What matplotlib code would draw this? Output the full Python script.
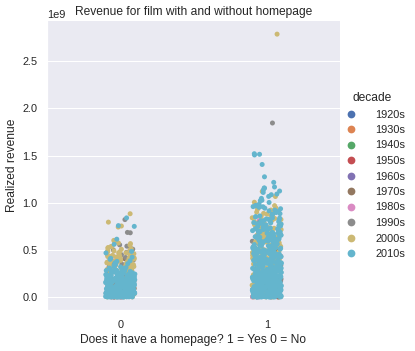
import numpy as np
import pandas as pd
import seaborn as sns
import matplotlib
matplotlib.use("Agg")
import matplotlib.pyplot as plt

decades = ["1920s", "1930s", "1940s", "1950s", "1960s",
           "1970s", "1980s", "1990s", "2000s", "2010s"]

# revenue in millions, no homepage (0)
no_hp_1920s = "0 5 1.2"
no_hp_1930s = "0 3 8 20 45"
no_hp_1940s = "0 2 12 30 60"
no_hp_1950s = "0 4 15 40 80 110"
no_hp_1960s = "0 10 30 60 100 140 180"
no_hp_1970s = "0 5 20 50 90 130 170 210 260 300 405"
no_hp_1980s = "0 10 25 50 80 120 160 200 240 290 330 380 430"
no_hp_1990s = """0 0 3 8 14 22 31 40 52 63 75 88 97 110 124 133 147 158 171 183
192 205 214 226 238 249 261 272 285 297 322 348 365 392 418 447 472 498 506 521
538 552 680 684 820"""
no_hp_2000s = """0 0 0 2 6 11 17 24 30 37 43 51 58 66 72 79 87 94 101 109
116 123 131 138 146 153 161 168 176 183 191 198 206 213 221 228 236 243 251 258
266 273 281 288 295 305 312 318 325 331 338 344 351 357 364 371 378 385 392 399
407 415 423 431 440 449 458 468 478 488 499 511 523 536 550 565 581 599 741 752
793 882
302 309 316 322 329 335 342 348 355 361 368 374 381 388 396 403 411 419 428 437
446 456 467 479 492 505 519 534 572"""
no_hp_2010s = """0 0 0 0 0 0 0 0.4 1.2 1.9 2.5 3.8 4.1 5.6 6.3 7.7 8.2 9.9 11 12.4
13.1 14.8 15.5 17.2 18 19.6 21.3 22 23.7 25.1 26.4 27.9 29.3 30.5 32 33.8 35.2 36.1 37.9 39.4
41 42.6 43.3 45.8 46.2 48.7 49.5 51.1 53.6 54.2 56.9 57.3 59 60.8 62.5 63.1 65.7 66.4 68 69.9
71.2 72.8 74.3 75.9 77.1 78.6 80.4 81.7 83.3 85 86.2 88.8 89.5 91.1 93.7 94.4 96 97.8 99.3 101
102.6 104.2 105.9 107.3 109 110.5 112.2 113.8 115.1 117.6 118.4 120.9 122.2 123.7 125.5 127 128.9 130.3 132.1 133.6
135.4 137 138.8 140.2 142.5 143.9 145.6 147.1 149.8 151.2 152.9 154.6 156.3 158 159.7 161.5 163.2 165 166.8 168.4
170.1 172.3 174 175.9 177.6 179.4 181.5 183.2 185.1 187 188.9 190.8 192.7 194.9 196.5 198.6 200.8 202.7 204.9 207.1
209.2 211.6 213.8 216.1 218.3 220.9 223.2 225.8 228.1 230.7 233.4 236.2 239 241.9 244.5 247.8 250.6 254.1 257.3 260.9
264.2 268 271.5 275.8 279.6 284.3 289.7 295.2 300.5 312 323 338 352 377 398 421 466 482 558 612
748 756 838
0 0 0 0 0 0.8 2.7 4.4 6.9 9.1 11.7 13.9 16.3 18.8 21.6 24.2 26.9 29.7 32.4 35.6
38.3 41.5 44.1 47.3 50.6 53.2 56.4 59.7 62.8 66.1 69.3 72.5 75.6 79.1 82.4 85.7 88.9 92.3 95.6 98.8
102.1 105.5 108.8 112.1 115.6 118.9 122.4 125.8 129.1 132.6 136 139.5 142.9 146.4 149.9 153.3 156.8 160.4 163.9 167.5
171 174.6 178.2 181.8 185.5 189.1 192.8 196.5 200.2 203.9 207.7 211.5 215.3 219.1 223 226.9 230.9 234.9 239 243.1
247.3 251.6 256 260.5 265.1 269.9 274.8 280 285.4 291.1 306 318 331 345 362 383 409"""

# revenue in millions, with homepage (1)
hp_1920s = "0 2"
hp_1930s = "0 10 50"
hp_1940s = "0 20 70"
hp_1950s = "0 30 90"
hp_1960s = "0 15 40 80 120"
hp_1970s = "0 20 60 120 200 300 460 485"
hp_1980s = "0 30 80 180 250 330 410 810"
hp_1990s = """0 0 4 9 16 24 33 41 50 61 70 82 91 103 114 126 135 148 157 169
178 190 201 212 224 233 246 255 268 279 290 300 335 380 430 480 530 590 660 790
1845"""
hp_2000s = """0 0 0 3 8 13 19 25 31 36 42 48 55 61 67 73 80 86 92 99
105 111 118 124 131 137 143 150 156 163 169 176 182 189 195 202 208 215 221 228
234 241 248 254 261 268 274 281 288 294 301 308 315 322 329 345 352 360 368 375
381 390 398 404 412 420 427 435 441 450 458 466 473 481 490 498 507 515 524 532
541 550 560 569 579 589 598 608 619 630 641 652 664 676 688 701 714 728 742 757
772 788 804 821 839 858 878 899 921 944 968 1004 1065 1118 2788
356 371 386 402 418 433 449 463 477 494 511 527 545 563 583 603 625 648 670 695
720 748 783 815 850 886 930
348 363 378 394 409 425 441 457 471 486 503 519 536 554 573 593 614 636 659 682
707 734 765 798 832 868 905 952"""
hp_2010s = """0 0 0 0 0 0 0 0 0.6 1.3 2.2 2.9 3.7 4.6 5.2 6.8 7.5 8.3 9.6 10.8
12.1 13.5 14.2 15.9 16.7 18.3 19.1 20.6 22.4 23.8 25.3 26.1 27.7 29.4 30.2 31.9 33.5 34.8 36.6 38.1
39.7 41.2 42.9 44.3 45.6 47.4 49 50.7 52.3 53.8 55.5 57.1 58.6 60.4 62 63.9 65.3 67.1 68.8 70.2
72 73.7 75.4 77.2 78.9 80.5 82.3 84 85.8 87.4 89.1 91 92.7 94.5 96.2 98 99.8 101.5 103.3 105.1
106.9 108.6 110.4 112.3 114.1 115.9 117.7 119.6 121.4 123.3 125.1 127 128.9 130.7 132.6 134.5 136.4 138.3 140.2 142.1
144 146 148 149.9 151.9 153.8 155.8 157.8 159.7 161.7 163.7 165.7 167.7 169.8 171.8 173.8 175.9 178 180 182.1
184.2 186.3 188.4 190.5 192.7 194.8 197 199.2 201.4 203.6 205.8 208.1 210.3 212.6 214.9 217.2 219.6 221.9 224.3 226.7
229.1 231.6 234 236.5 239.1 241.6 244.2 246.9 249.5 252.2 255 257.8 260.6 263.5 266.5 269.5 272.6 275.7 279 282.3
285.7 289.2 292.8 296.5 300.4 304.4 308.6 313 317.6 322.5 327.7 333.3 341 346 352 355 361 364 370 373
379 384 388 392 397 401 405 411 416 419 424 430 433 438 442 447 452 458 461 467
471 476 480 486 491 495 502 506 511 517 522 528 533 539 544 550 556 561 567 573
578 584 590 596 601 607 614 620 626 633 639 646 652 659 665 672 679 686 693 700
708 715 723 731 738 746 755 763 772 780 789 798 808 817 827 838 848 859 871 883
895 908 921 935 950 966 983 1002 956 958 970 1021 1025 1045 1066 1084 1091 1108 1123 1134
1153 1156 1166 1215 1274 1405 1506 1513 1519
0 0 0 0 0 1.1 3.3 5.9 8.7 11.4 14.6 17.5 20.1 23.3 26.2 29.1 32.4 35.3 38.5 41.6
44.8 47.9 51.2 54.4 57.7 60.9 64.2 67.5 70.8 74.2 77.6 81 84.3 87.8 91.2 94.7 98.1 101.6 105.1 108.7
112.2 115.8 119.4 123 126.6 130.3 134 137.7 141.4 145.2 148.9 152.7 156.6 160.4 164.3 168.2 172.2 176.2 180.2 184.3
188.4 192.5 196.7 201 205.3 209.6 214 218.5 223 227.6 232.3 237 241.8 246.7 251.7 256.8 262 267.3 272.8 278.4
284.2 290.1 296.3 302.7 309.4 316.4 323.8 331.6 339 344 350 358 366 375 386 395 403 414 426 436
445 455 464 475 488 497 509 520 531 547 559 571 586 598 612 624 641 657 675 690
711 733 752 776 799 823 851 877 912 941
337 343 349 356 362 369 377 383 391 399 408 417 427 437 448 459 471 483 494 506
518 529 542 555 568 581 595 609 623 638 654 669 685 703 721 741 762 785 809 836"""

no_hp = [no_hp_1920s, no_hp_1930s, no_hp_1940s, no_hp_1950s, no_hp_1960s,
         no_hp_1970s, no_hp_1980s, no_hp_1990s, no_hp_2000s, no_hp_2010s]
hp = [hp_1920s, hp_1930s, hp_1940s, hp_1950s, hp_1960s,
      hp_1970s, hp_1980s, hp_1990s, hp_2000s, hp_2010s]

rows = []
for flag, groups in [(0, no_hp), (1, hp)]:
    for dec, vals in zip(decades, groups):
        for v in vals.split():
            rows.append((flag, dec, float(v) * 1e6))
df = pd.DataFrame(rows, columns=["homepage", "decade", "revenue"])

sns.set_theme()
plt.rcParams["font.family"] = ["Liberation Sans", "DejaVu Sans"]
np.random.seed(3)

g = sns.catplot(data=df, x="homepage", y="revenue", hue="decade",
                hue_order=decades, height=4.875, aspect=1)
fig = g.figure
fig.set_size_inches(415 / 72, 351 / 72)
fig.subplots_adjust(left=47 / 415, right=340 / 415, top=1 - 21 / 351, bottom=1 - 310 / 351)
ax = g.ax
ax.set_title("Revenue for film with and without homepage")
ax.set_xlabel("Does it have a homepage? 1 = Yes 0 = No")
ax.set_ylabel("Realized revenue")
sns.move_legend(g, "center right", bbox_to_anchor=(1.0, 0.5), handletextpad=1.2)
for h in g._legend.legend_handles:
    if hasattr(h, "set_sizes"):
        h.set_sizes([60])
    else:
        h.set_markersize(np.sqrt(60))

fig.savefig("out.png", dpi=72)
